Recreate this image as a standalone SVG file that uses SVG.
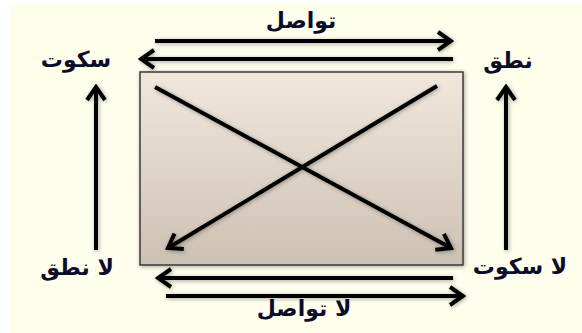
<svg xmlns="http://www.w3.org/2000/svg" width="582" height="333" viewBox="0 0 582 333">
<style>
.lbl{font-family:"DejaVu Sans",sans-serif;font-weight:bold;font-size:22px;fill:#0b0b2a;text-anchor:middle;direction:rtl}
.con{stroke:#000;stroke-width:4;fill:none;marker-end:url(#ah)}
</style>
<defs>
<linearGradient id="g" x1="0" y1="0" x2="0" y2="1">
<stop offset="0" stop-color="#F1E7DD"/>
<stop offset="1" stop-color="#CDC1B3"/>
</linearGradient>
<filter id="sh" x="-10%" y="-10%" width="120%" height="120%">
<feGaussianBlur in="SourceAlpha" stdDeviation="2"/>
<feOffset dx="1" dy="1"/>
<feComponentTransfer><feFuncA type="linear" slope="0.35"/></feComponentTransfer>
<feMerge><feMergeNode/><feMergeNode in="SourceGraphic"/></feMerge>
</filter>
<marker id="ah" markerUnits="userSpaceOnUse" viewBox="0 0 18 22" refX="15" refY="11" markerWidth="18" markerHeight="22" orient="auto">
<path d="M2,2 L15,11 L2,20" fill="none" stroke="#000" stroke-width="4" stroke-linejoin="miter"/>
</marker>
</defs>
<rect width="582" height="333" fill="#fff"/>
<rect x="9" y="3" width="573" height="330" fill="#FFFDEB"/>
<g id="box" filter="url(#sh)">
<rect x="140" y="72" width="323" height="193" fill="url(#g)" stroke="#3a3a3a" stroke-width="1.5"/>
</g>
<g id="connectors" filter="url(#sh)">
<path class="con" d="M155,41 L451,41"/>
<path class="con" d="M453,59 L141,59"/>
<path class="con" d="M96,250 L96,87"/>
<path class="con" d="M506,250 L506,87"/>
<path class="con" d="M155,87 L451,248"/>
<path class="con" d="M437,86 L168,248"/>
<path class="con" d="M453,278 L158,278"/>
<path class="con" d="M166,296 L463,296"/>
</g>
<g id="n-tawasul"><text class="lbl" x="301" y="28">تواصل</text></g>
<g id="n-sukut"><text class="lbl" x="76" y="67">سكوت</text></g>
<g id="n-nutq"><text class="lbl" x="508" y="68">نطق</text></g>
<g id="n-la-nutq"><text class="lbl" x="77" y="275">لا نطق</text></g>
<g id="n-la-sukut"><text class="lbl" x="520" y="274">لا سكوت</text></g>
<g id="n-la-tawasul"><text class="lbl" x="304" y="316">لا تواصل</text></g>
</svg>
